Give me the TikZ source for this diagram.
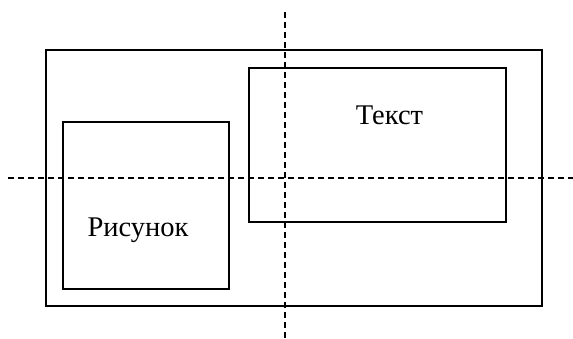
\documentclass[tikz,border=0pt]{standalone}
\usepackage{fontspec}
\setmainfont{Liberation Serif}
\usetikzlibrary{positioning}

\begin{document}
\begin{tikzpicture}[x=1pt, y=-1pt,
    frame/.style={draw, line width=1.6pt, minimum width=#1, inner sep=0pt},
    axis/.style={draw, line width=1.4pt, dash pattern=on 6pt off 4pt},
    lbl/.style={font=\fontsize{28.5}{32}\selectfont, inner sep=0pt, anchor=base}
]
    \useasboundingbox (0,0) rectangle (573,338);
    % outer field and the two blocks
    \node[frame=496pt, minimum height=256pt] (sheet) at (294,178) {};
    \node[frame=166pt, minimum height=167pt] (pic) at (146,205.5) {};
    \node[frame=257pt, minimum height=154pt] (txt) at (377.5,145) {};
    \node[lbl] (txtlbl) at (389.5,124) {Текст};
    \node[lbl] (piclbl) at (138,236) {Рисунок};
    % center lines
    \coordinate (vtop) at (285,12);
    \coordinate (vbot) at (285,338);
    \coordinate (hleft) at (8,178);
    \coordinate (hright) at (573,178);
    \draw[axis] (vtop) -- (vbot);
    \draw[axis] (hleft) -- (hright);
\end{tikzpicture}
\end{document}
